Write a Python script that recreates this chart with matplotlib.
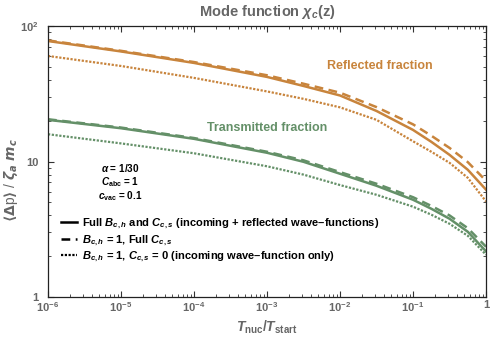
import numpy as np
import matplotlib
matplotlib.use("Agg")
import matplotlib.pyplot as plt
from matplotlib.lines import Line2D
from matplotlib.ticker import LogLocator, NullFormatter, FixedLocator, FixedFormatter

plt.rcParams['font.family'] = ['Liberation Sans', 'DejaVu Sans']
plt.rcParams['font.weight'] = 'bold'
plt.rcParams['mathtext.fontset'] = 'custom'
plt.rcParams['mathtext.rm'] = 'Liberation Sans:bold'
plt.rcParams['mathtext.it'] = 'Liberation Sans:italic:bold'
plt.rcParams['mathtext.bf'] = 'Liberation Sans:bold'

# ------------------------------------------------------------
# Datos
# ------------------------------------------------------------
t_ratio = [1e-6, 1e-5, 1e-4, 1e-3, 3.16e-3, 1e-2, 3.16e-2, 0.1, 0.178, 0.316, 0.562, 1.0]

refl_full = [77.5, 64.9, 53.4, 42.1, 36.1, 30.7, 23.6, 17.1, 13.97, 11.2, 8.69, 6.19]
refl_b1 = [78.3, 65.6, 54.2, 43.3, 37.5, 32.2, 25.2, 18.8, 15.5, 12.6, 9.9, 7.2]
refl_inc = [60.1, 50.7, 41.4, 32.9, 29.0, 25.1, 20.3, 14.1, 11.8, 9.78, 7.58, 5.07]

trans_full = [20.3, 17.6, 14.7, 11.6, 9.95, 8.12, 6.62, 5.22, 4.48, 3.78, 3.03, 2.17]
trans_b1 = [20.5, 17.8, 14.9, 11.8, 10.2, 8.35, 6.85, 5.45, 4.7, 4.0, 3.22, 2.35]
trans_inc = [15.9, 13.6, 11.5, 9.22, 8.0, 6.7, 5.68, 4.64, 4.05, 3.47, 2.83, 2.05]

x_ticks = [1e-6, 1e-5, 1e-4, 1e-3, 1e-2, 1e-1, 1]
x_labels = ["$10^{-6}$", "$10^{-5}$", "$10^{-4}$", "$10^{-3}$", "$10^{-2}$", "$10^{-1}$", "1"]
y_ticks = [1, 10, 100]
y_labels = ["1", "10", "$10^{2}$"]

legend_labels = [
    "Full $B_{c,h}$ and $C_{c,s}$ (incoming + reflected wave\u2013functions)",
    "$B_{c,h}$ = 1, Full $C_{c,s}$",
    "$B_{c,h}$ = 1, $C_{c,s}$ = 0 (incoming wave\u2013function only)",
]

c_orange = "#C8843C"
c_green = "#649068"
c_gray = "#666666"

solid = dict(linestyle="-", lw=1.8)
dashed = dict(linestyle=(0, (3.5, 2.2)), lw=1.8)
dotted = dict(linestyle=(0, (1.0, 0.7)), lw=1.6)

# ------------------------------------------------------------
# Figura
# ------------------------------------------------------------
fig = plt.figure(figsize=(4.98, 3.40), dpi=100)
ax = fig.add_axes([0.0964, 0.1265, 0.8796, 0.797])

ax.plot(t_ratio, refl_full, color=c_orange, **solid)
ax.plot(t_ratio, refl_b1, color=c_orange, **dashed)
ax.plot(t_ratio, refl_inc, color=c_orange, **dotted)
ax.plot(t_ratio, trans_full, color=c_green, **solid)
ax.plot(t_ratio, trans_b1, color=c_green, **dashed)
ax.plot(t_ratio, trans_inc, color=c_green, **dotted)

ax.set_xscale("log")
ax.set_yscale("log")
ax.set_xlim(1e-6, 1)
ax.set_ylim(1, 100)

ax.xaxis.set_major_locator(FixedLocator(x_ticks))
ax.xaxis.set_major_formatter(FixedFormatter(x_labels))
ax.yaxis.set_major_locator(FixedLocator(y_ticks))
ax.yaxis.set_major_formatter(FixedFormatter(y_labels))
ax.xaxis.set_minor_locator(LogLocator(base=10, subs=np.arange(2, 10), numticks=20))
ax.yaxis.set_minor_locator(LogLocator(base=10, subs=np.arange(2, 10), numticks=20))
ax.xaxis.set_minor_formatter(NullFormatter())
ax.yaxis.set_minor_formatter(NullFormatter())

ax.tick_params(which="both", direction="in", top=True, right=True,
               labelsize=8, labelcolor=c_gray, color="#333333")
ax.tick_params(which="major", length=4, width=0.8, pad=2.5)
ax.tick_params(which="minor", length=2, width=0.6)
ax.tick_params(axis="y", which="major", pad=7)
for s in ax.spines.values():
    s.set_linewidth(0.9)
    s.set_color("#222222")

ax.set_title("Mode function $\\chi_c$(z)", fontsize=10.5, color=c_gray,
             fontweight="bold", pad=7)
ax.set_xlabel("$T_{\\rm nuc}/T_{\\rm start}$", fontsize=10, color=c_gray, labelpad=3)
ax.set_ylabel("$\\langle\\Delta$p$\\rangle$ / $\\zeta_a$ $m_c$", fontsize=10,
              color=c_gray, math_fontfamily="dejavusans")
ax.yaxis.set_label_coords(-0.064, 0.43)

ax.text(3.5e-2, 51, "Reflected fraction", color=c_orange, fontsize=9,
        fontweight="bold", ha="center", va="center")
ax.text(1.0e-3, 17.7, "Transmitted fraction", color=c_green, fontsize=9,
        fontweight="bold", ha="center", va="center")

ax.text(9.8e-6, 9.0, "$\\alpha$ = 1/30", fontsize=7.2, ha="center", va="center")
ax.text(9.8e-6, 7.08, "$C_{\\rm abc}$ = 1", fontsize=7.2, ha="center", va="center")
ax.text(9.8e-6, 5.58, "$c_{\\rm vac}$ = 0.1", fontsize=7.2, ha="center", va="center")

handles = [Line2D([], [], color="black", **solid),
           Line2D([], [], color="black", **dashed),
           Line2D([], [], color="black", **dotted)]
ax.legend(handles, legend_labels, loc="lower left", bbox_to_anchor=(0.025, 0.113),
          borderaxespad=0, frameon=False, fontsize=8, handlelength=1.45,
          handletextpad=0.45, labelspacing=0.16, borderpad=0.2)

fig.savefig("out.png", dpi=100)
